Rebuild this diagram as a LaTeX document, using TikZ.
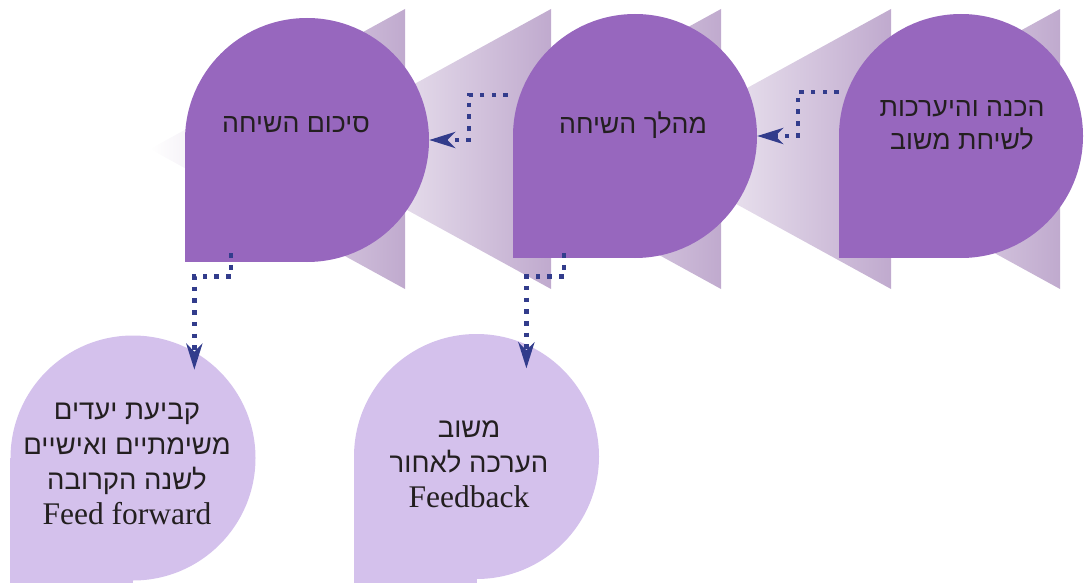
\documentclass[tikz,border=0pt]{standalone}
\usepackage{fontspec}
\setmainfont{Liberation Serif}
\newfontfamily\hebsans[Script=Hebrew]{Liberation Sans}
\TeXXeTstate=1
\usepackage{tikz}
\usetikzlibrary{arrows.meta, positioning}

\definecolor{stagefill}{RGB}{151,103,190}
\definecolor{wedgefill}{RGB}{192,170,206}
\definecolor{outfill}{RGB}{212,193,236}
\definecolor{linkblue}{RGB}{50,60,140}
\definecolor{inktext}{RGB}{35,31,32}

% one Hebrew line inside an outcome bubble
\newcommand{\hebline}[1]{{\hebsans\fontsize{27.5}{35}\selectfont\beginR #1\endR}}

\begin{document}
\begin{tikzpicture}[
    x=1pt, y=-1pt,
    stage/.style={circle, fill=stagefill, minimum size=244pt, inner sep=0pt},
    outcome/.style={circle, fill=outfill, minimum size=245pt, inner sep=0pt},
    stagetext/.style={text=inktext, align=center, font=\hebsans\fontsize{26.7}{33}\selectfont},
    outtext/.style={text=inktext, align=center, font=\fontsize{31.5}{35}\selectfont},
    link/.style={draw=linkblue, line width=4.6pt, dash pattern=on 4.6pt off 7.1pt,
        -{Stealth[length=26pt, width=16pt, inset=8pt]}}
]
    \useasboundingbox (0,0) rectangle (1084,583);

    % Define the wedges behind the stages
    \foreach \edge in {405, 721, 1060}
        \shade[left color=white, right color=wedgefill] (\edge,9) -- (\edge,289) -- (\edge-255,149) -- cycle;
    \foreach \edge in {551, 891}
        \shade[left color=white, right color=wedgefill] (\edge,9) -- (\edge,289) -- (\edge-255,149) -- cycle;

    % Define stage nodes
    \node[stage] (sum) at (307,140) {};
    \node[stage] (talk) at (635,136) {};
    \node[stage] (prep) at (961,136) {};
    \foreach \s in {sum, talk, prep}
        \fill[stagefill] (\s.west) rectangle (\s.south);

    % Define outcome nodes
    \node[outcome] (goals) at (133,458) {};
    \node[outcome] (feedback) at (476.5,456.5) {};
    \foreach \s in {goals, feedback}
        \fill[outfill] (\s.west) rectangle ([yshift=-5pt]\s.south);

    % Texts
    \node[stagetext] (sumtext) at (296,125) {\beginR סיכום השיחה\endR};
    \node[stagetext] (talktext) at (633,125) {\beginR מהלך השיחה\endR};
    \node[stagetext] (preptext) at (962,125) {\beginR הכנה והיערכות\endR\\\beginR לשיחת משוב\endR};
    \node[outtext] (goalstext) at (127,464) {\hebline{קביעת יעדים}\\\hebline{משימתיים ואישיים}\\\hebline{לשנה הקרובה}\\Feed forward};
    \node[outtext] (feedbacktext) at (469,464) {\hebline{משוב}\\\hebline{הערכה לאחור}\\Feedback};

    % Dotted links between the nodes
    \draw[link] ([yshift=44pt]prep.west) -- ++(-41,0) |- (talk.east);
    \draw[link] ([xshift=-5pt,yshift=41pt]talk.west) -- ++(-39,0) |- (sum.east);
    \draw[link] ([xshift=-76pt,yshift=9pt]sum.south) -- ++(0,23) -| ([yshift=-18pt]goals.60);
    \draw[link] ([xshift=-71pt,yshift=5pt]talk.south) -- ++(0,23) -| ([yshift=-24pt]feedback.66);
\end{tikzpicture}
\end{document}
